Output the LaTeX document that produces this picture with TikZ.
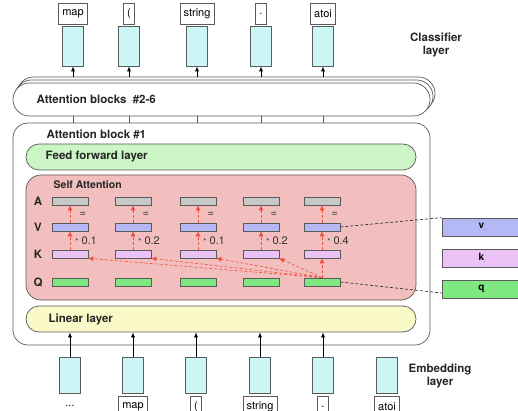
\documentclass[tikz,border=0pt]{standalone}
\usepackage{fontspec}
\setmainfont{TeX Gyre Heros}
\usetikzlibrary{arrows.meta,positioning,shapes}

\definecolor{embcol}{RGB}{204,247,247}
\definecolor{acol}{RGB}{200,200,200}
\definecolor{vcol}{RGB}{180,185,245}
\definecolor{kcol}{RGB}{235,194,245}
\definecolor{qcol}{RGB}{128,232,128}
\definecolor{ffcol}{RGB}{204,245,197}
\definecolor{sacol}{RGB}{242,190,190}
\definecolor{lincol}{RGB}{250,250,200}
\definecolor{redarr}{RGB}{240,78,58}
\definecolor{edge}{RGB}{90,90,90}

\tikzset{
  tok/.style={draw=edge, fill=white, font=\fontsize{11}{12}\selectfont, inner xsep=3.5pt, inner ysep=0pt, minimum height=21pt, minimum width=11pt},
  emb/.style={draw=edge, fill=embcol, inner sep=0pt, minimum width=21pt, minimum height=40pt},
  bar/.style={draw=edge, inner sep=0pt, minimum width=36pt, minimum height=8pt},
  layer/.style={draw=edge, inner sep=0pt, minimum width=390pt, minimum height=26pt, rounded corners=13pt},
  lbl/.style={font=\bfseries\fontsize{11.5}{13.5}\selectfont, text=black!85},
  up/.style={-{Latex[length=5pt,width=4pt]}, black},
  attn/.style={-{Latex[length=5pt,width=5pt]}, redarr, dash pattern=on 3pt off 2pt, line width=0.6pt},
  link/.style={dash pattern=on 3pt off 2pt, black!80}
}

\begin{document}
\begin{tikzpicture}[x = 1pt, y = -1pt, line width = 0.7pt]
\useasboundingbox (0,0) rectangle (518,411);

% classifier layer
\foreach \x/\t [count=\i] in {73/map,129/{(},197/string,261/.,323/atoi} {
  \node[tok] (out\i) at (\x,13.5) {\t};
  \node[emb] (cls\i) at (\x,46) {};
}
\node[lbl, align=center] (clslbl) at (436,45) {Classifier\\layer};

% attention blocks #2-6
\draw[draw=edge, fill=white, rounded corners=16.5pt] (17,77) rectangle (435,110);
\draw[draw=edge, fill=white, rounded corners=16.5pt] (15,80) rectangle (433,113);
\node[draw=edge, fill=white, rounded corners=16.5pt, minimum width=417pt, minimum height=33pt] (stack) at (221.5,99.5) {};
\node[lbl, anchor=west] at (33,99) {Attention blocks \ \#2-6};
\foreach \i in {1,...,5}
  \draw[up] (cls\i.south |- 0,77) -- (cls\i.south);

% attention block #1
\node[draw=edge, fill=white, rounded corners=15pt, minimum width=417pt, minimum height=222pt] (block) at (221.5,234) {};
\node[lbl, anchor=west] at (43,134) {Attention block \#1};
\foreach \i in {1,...,5}
  \draw[edge] (stack.south -| cls\i) -- (block.north -| cls\i);

\node[layer, fill=ffcol] (ff) at (221,157) {};
\node[lbl, anchor=west] at (42,157) {Feed forward layer};

\node[draw=edge, fill=sacol, rounded corners=15pt, minimum width=390pt, minimum height=125pt] (sa) at (221,237.5) {};
\node[lbl, anchor=west, font=\bfseries\fontsize{10.5}{12}\selectfont] at (50,185) {Self Attention};

\node[layer, fill=lincol] (lin) at (221,319) {};
\node[lbl, anchor=west] at (45,319) {Linear layer};

% rows of the self attention
\node[lbl] at (38,201) {A};
\node[lbl] at (38,227) {V};
\node[lbl] at (38,254) {K};
\node[lbl] at (38,282) {Q};
\foreach \x/\w [count=\i] in {70/0.1,133/0.2,198/0.1,261/0.2,322/0.4} {
  \node[bar, fill=acol] (A\i) at (\x,201) {};
  \node[bar, fill=vcol] (V\i) at (\x,227) {};
  \node[bar, fill=kcol] (K\i) at (\x,254) {};
  \node[bar, fill=qcol] (Q\i) at (\x,282) {};
  \draw[attn] (V\i) -- (A\i);
  \draw[attn] (K\i) -- (V\i);
  \node[anchor=west, font=\fontsize{11}{12}\selectfont, text=black!80] at (\x+6,214) {=};
  \node[anchor=west, font=\fontsize{11}{12}\selectfont, text=black!80, inner sep=0pt] at (\x+5,241) {{\footnotesize *} \w};
}
\draw[attn] (Q5) -- (K5);
\foreach \i in {1,...,4}
  \draw[attn] (Q5.north) -- (K\i.south east);

% vectors of the last token
\node[draw=edge, fill=vcol, minimum width=80pt, minimum height=18pt, inner sep=0pt] (v) at (482,227) {\textbf{v}\raisebox{-2pt}{\tiny .}};
\node[draw=edge, fill=kcol, minimum width=80pt, minimum height=18pt, inner sep=0pt] (k) at (482,258) {\textbf{k}\raisebox{-2pt}{\tiny .}};
\node[draw=edge, fill=qcol, minimum width=80pt, minimum height=18pt, inner sep=0pt] (q) at (482,289) {\textbf{q}\raisebox{-2pt}{\tiny .}};
\draw[link] (V5.east) -- (v.north west);
\draw[link] (Q5.east) -- ([yshift=-4pt]q.west);

% embedding layer
\foreach \x [count=\i] in {70,133,196,260,323,387}
  \node[emb, minimum height=36pt] (emb\i) at (\x,375) {};
\foreach \t [count=\i from 2] in {map,{(},string,.,atoi}
  \node[tok, anchor=north] (in\i) at (emb\i.south |- 0,396) {\t};
\node[anchor=north, font=\fontsize{11}{12}\selectfont] (in1) at (70,402) {...};
\foreach \i in {1,...,5}
  \draw[up] (emb\i.north) -- (emb\i.north |- lin.south);
\node[lbl, align=center] (emblbl) at (440,376) {Embedding\\layer};
\end{tikzpicture}
\end{document}
